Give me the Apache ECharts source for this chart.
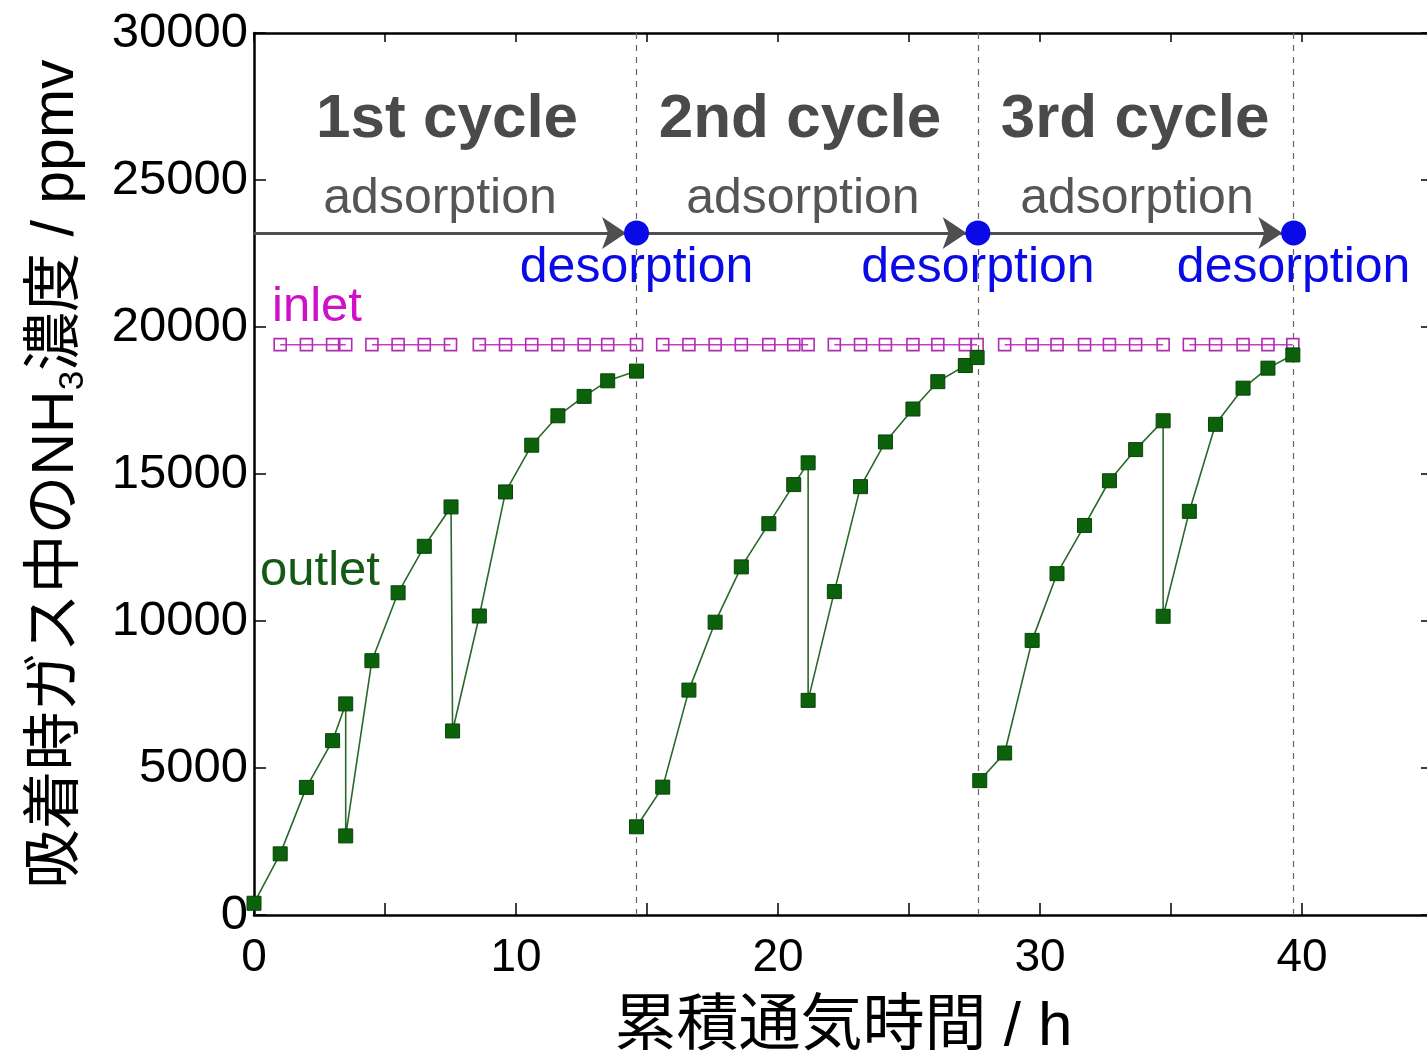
<!DOCTYPE html>
<html>
<head>
<meta charset="utf-8">
<script src="https://cdn.jsdelivr.net/npm/echarts@6/dist/echarts.min.js"></script>
<style>
  html, body { margin: 0; padding: 0; background: #fff; }
  #chart { width: 1427px; height: 1054px; }
</style>
</head>
<body>
<div id="chart"></div>
<script>
// Outlet NH3 concentration (ppmv) against cumulative gas-flow time (h), one array pair per cycle
const outletTime1 = [0, 1.0, 2.0, 3.0, 3.5, 3.5, 4.5, 5.5, 6.5, 7.52, 7.58, 8.6, 9.6, 10.6, 11.6, 12.6, 13.5, 14.6];
const outletConc1 = [400, 2080, 4340, 5930, 7180, 2690, 8650, 10960, 12540, 13880, 6260, 10170, 14390, 15980, 16980, 17640, 18170, 18500];
const outletTime2 = [14.6, 15.6, 16.6, 17.6, 18.6, 19.65, 20.6, 21.15, 21.15, 22.15, 23.15, 24.1, 25.15, 26.1, 27.15, 27.6];
const outletConc2 = [3000, 4350, 7650, 9960, 11840, 13310, 14640, 15380, 7300, 11000, 14570, 16090, 17210, 18140, 18690, 18960];
const outletTime3 = [27.7, 28.65, 29.7, 30.65, 31.7, 32.65, 33.65, 34.7, 34.7, 35.7, 36.7, 37.75, 38.7, 39.65];
const outletConc3 = [4570, 5510, 9340, 11610, 13250, 14770, 15830, 16810, 10160, 13730, 16690, 17920, 18600, 19050];

// Inlet NH3 concentration, measured in runs between interruptions
const inletRuns = [
  { t: [1, 2, 3, 3.5],                               c: [19400, 19400, 19400, 19400] },
  { t: [4.5, 5.5, 6.5, 7.5],                         c: [19400, 19400, 19400, 19400] },
  { t: [8.6, 9.6, 10.6, 11.6, 12.6, 13.5, 14.6],     c: [19400, 19400, 19400, 19400, 19400, 19400, 19400] },
  { t: [15.6, 16.6, 17.6, 18.6, 19.65, 20.6, 21.15], c: [19400, 19400, 19400, 19400, 19400, 19400, 19400] },
  { t: [22.15, 23.15, 24.1, 25.15, 26.1, 27.15, 27.6], c: [19400, 19400, 19400, 19400, 19400, 19400, 19400] },
  { t: [28.65, 29.7, 30.65, 31.7, 32.65, 33.65, 34.7], c: [19400, 19400, 19400, 19400, 19400, 19400, 19400] },
  { t: [35.7, 36.7, 37.75, 38.7, 39.65],             c: [19400, 19400, 19400, 19400, 19400] }
];

// Desorption events and the adsorption arrows between them
const desorptionTimes = [14.6, 27.63, 39.68];
const phaseLevel = 23200;
const arrowStarts = [0, 14.6, 27.63];
const arrowEnds = [14.2, 27.2, 39.25];

// Labels
const cycleLabels = ['1st cycle', '2nd cycle', '3rd cycle'];
const phaseLabel = 'adsorption';
const desorbLabel = 'desorption';
const xTicks = [0, 10, 20, 30, 40];
const yTicks = [0, 5000, 10000, 15000, 20000, 25000, 30000];

const FONT = "'Liberation Sans', Arial, 'Noto Sans CJK JP', sans-serif";
const GREEN = '#0b620b';
const MAGENTA = '#b02cb0';
const BLUE = '#0a0ae6';
const GREY = '#4f4f4f';

function pairs(ts, cs) { return ts.map((t, i) => [t, cs[i]]); }
// join segments with a gap so the line breaks between them
function joinWithGaps(segments) {
  const out = [];
  segments.forEach((seg, k) => {
    if (k > 0) out.push([seg[0][0], '-']);
    seg.forEach(p => out.push(p));
  });
  return out;
}

const outletData = joinWithGaps([
  pairs(outletTime1, outletConc1),
  pairs(outletTime2, outletConc2),
  pairs(outletTime3, outletConc3)
]);
const inletData = joinWithGaps(inletRuns.map(r => pairs(r.t, r.c)));

function textPoint(x, y, text, style, position) {
  return {
    value: [x, y],
    label: Object.assign({
      show: true, formatter: text, position: position || 'inside',
      fontFamily: FONT, distance: 0, opacity: 1
    }, style)
  };
}

const cycleCenters = [7.37, 20.84, 33.63];
const adsCenters = [7.1, 20.95, 33.7];

const annotations = [];
cycleLabels.forEach((s, i) => annotations.push(textPoint(cycleCenters[i], 27050, s,
  { fontSize: 62, fontWeight: 'bold', color: '#4a4a4a' })));
adsCenters.forEach(x => annotations.push(textPoint(x, 24350, phaseLabel,
  { fontSize: 50, color: '#555555' })));
desorptionTimes.forEach(x => annotations.push(textPoint(x, 22000, desorbLabel,
  { fontSize: 50, color: BLUE })));
annotations.push(textPoint(0.69, 20650, 'inlet', { fontSize: 49, color: '#d010c8' }, 'right'));
annotations.push(textPoint(0.23, 11700, 'outlet', { fontSize: 49, color: '#145a14' }, 'right'));

const chart = echarts.init(document.getElementById('chart'), null, { renderer: 'canvas' });

const tickCommon = { show: true, inside: true, length: 12, lineStyle: { color: '#000', width: 1.5 } };
const X_MAX = 45;

chart.setOption({
  backgroundColor: '#ffffff',
  animation: false,
  grid: { left: 254, top: 33, width: 1179, height: 882, containLabel: false, outerBoundsMode: 'none' },
  xAxis: [{
    type: 'value', min: 0, max: X_MAX, interval: 10, position: 'bottom',
    axisLine: { show: true, onZero: false, lineStyle: { color: '#000', width: 2.5 } },
    axisTick: tickCommon,
    minorTick: { show: true, splitNumber: 2, length: 12, lineStyle: { color: '#000', width: 1.5 } },
    splitLine: { show: false },
    axisLabel: {
      fontFamily: FONT, fontSize: 46, color: '#000', margin: 20, showMaxLabel: false,
      formatter: v => (xTicks.indexOf(v) >= 0 ? String(v) : '')
    },
    name: '累積通気時間 / h', nameLocation: 'middle', nameGap: 82,
    nameTextStyle: { fontFamily: FONT, fontSize: 62, color: '#000' }
  }, {
    type: 'value', min: 0, max: X_MAX, interval: 5, position: 'top',
    axisLine: { show: true, onZero: false, lineStyle: { color: '#000', width: 2.5 } },
    axisTick: { show: true, inside: true, length: 9, lineStyle: { color: '#000', width: 1.5 } },
    splitLine: { show: false }, axisLabel: { show: false }
  }],
  yAxis: [{
    type: 'value', min: 0, max: 30000, interval: 5000, position: 'left',
    axisLine: { show: true, onZero: false, lineStyle: { color: '#000', width: 2.5 } },
    axisTick: tickCommon,
    splitLine: { show: false },
    axisLabel: {
      fontFamily: FONT, fontSize: 49, color: '#000', margin: 6,
      formatter: v => (yTicks.indexOf(v) >= 0 ? String(v) : '')
    },
    name: '{t|吸着時ガス中のNH}{s|3}{t|濃度 / ppmv}', nameLocation: 'middle', nameGap: 166,
    nameTextStyle: {
      fontFamily: FONT, color: '#000',
      rich: {
        t: { fontFamily: FONT, fontSize: 59, color: '#000', lineHeight: 62 },
        s: { fontFamily: FONT, fontSize: 35, color: '#000', lineHeight: 62, padding: [33, 0, 0, 0] }
      }
    }
  }, {
    type: 'value', min: 0, max: 30000, interval: 5000, position: 'right',
    axisLine: { show: true, onZero: false, lineStyle: { color: '#000', width: 2.5 } },
    axisTick: tickCommon, splitLine: { show: false }, axisLabel: { show: false }
  }],
  series: [
    {
      // desorption markers, dashed time lines and adsorption arrows
      type: 'scatter', name: 'desorption', z: 6,
      data: desorptionTimes.map(t => [t, phaseLevel]),
      symbol: 'circle', symbolSize: 25,
      itemStyle: { color: BLUE, opacity: 1 },
      markLine: {
        silent: true, animation: false, z: 1,
        label: { show: false },
        data: desorptionTimes.map(t => [
          { coord: [t, 0], symbol: 'none', lineStyle: { type: [6, 6], color: '#666', width: 1.2 } },
          { coord: [t, 30000], symbol: 'none' }
        ]).concat(arrowStarts.map((s, i) => [
          { coord: [s, phaseLevel], symbol: 'none', lineStyle: { type: 'solid', color: GREY, width: 3.2 } },
          { coord: [arrowEnds[i], phaseLevel], symbol: 'arrow', symbolSize: 24 }
        ]))
      }
    },
    {
      type: 'line', name: 'inlet', z: 3,
      data: inletData, connectNulls: false,
      symbol: 'rect', symbolSize: 12, showAllSymbol: true,
      lineStyle: { color: '#cc3acc', width: 1.5 },
      itemStyle: { color: 'rgba(255,255,255,0)', borderColor: MAGENTA, borderWidth: 1.6 }
    },
    {
      type: 'line', name: 'outlet', z: 4,
      data: outletData, connectNulls: false,
      symbol: 'rect', symbolSize: 14, showAllSymbol: true,
      lineStyle: { color: '#2a682a', width: 1.6 },
      itemStyle: { color: GREEN, borderColor: '#084408', borderWidth: 1 }
    },
    {
      type: 'scatter', name: 'annotations', z: 5, silent: true,
      symbolSize: 0, itemStyle: { opacity: 1 }, data: annotations
    }
  ]
});
</script>
</body>
</html>
